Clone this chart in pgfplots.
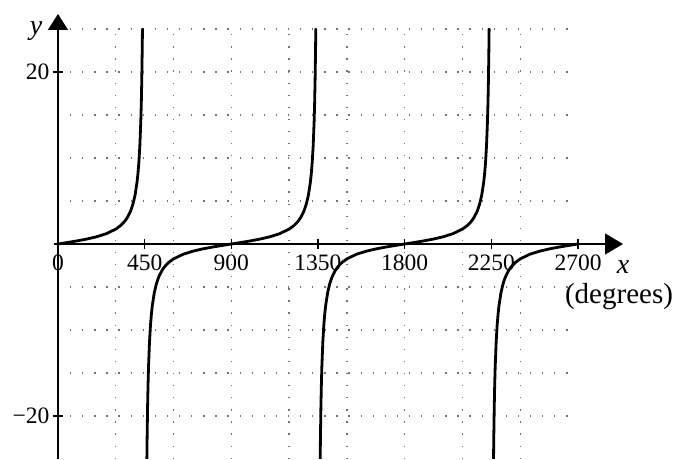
\documentclass[border=0pt]{standalone}
\usepackage{pgfplots}
\pgfplotsset{compat=1.18}
\usepackage{pgfplotstable}
\usepackage{fontspec}
\setmainfont{Liberation Serif}
\usetikzlibrary{arrows.meta}

% half of one branch of the curve: offset d from a zero, value v
\pgfplotstableread{
d v
0 0
50 0.1763
100 0.3640
150 0.5774
200 0.8391
250 1.1918
300 1.7321
325 2.1445
340 2.4751
350 2.7475
360 3.0777
375 3.7321
380 4.0108
390 4.7046
400 5.6713
410 7.1154
415 8.1443
420 9.5144
425 11.4301
430 14.3007
432.5 16.3499
435 19.0811
437.5 22.9038
438.55 25.0
}\halfbranch

\begin{document}
\begin{tikzpicture}
\begin{axis}[
  scale only axis, width=520pt, height=430pt,
  xmin=0, xmax=2700, ymin=-25, ymax=25,
  axis lines=middle,
  axis line style={line width=1.5pt, black},
  x axis line style={-{Triangle[length=18pt,width=21pt]}, shorten >=-45pt, shorten <=-4pt},
  y axis line style={-{Triangle[length=16pt,width=20pt]}, shorten >=-15pt},
  xtick={0,450,900,1350,1800,2250,2700},
  xticklabels={0,450,900,1350,1800,2250,2700},
  ytick={-20,20},
  yticklabels={−20,20},
  hide obscured x ticks=false,
  hide obscured y ticks=false,
  tick style={black, line width=1.3pt},
  major tick length=10pt, tick align=center,
  minor xtick={300,600,900,1200,1500,1800,2100,2400},
  minor ytick={-20,-15,-10,-5,0,5,10,15,20,25},
  minor tick length=0pt,
  grid=minor,
  minor grid style={black!55, line width=1.3pt, dash pattern=on 1.3pt off 10.8pt},
  ticklabel style={font=\fontsize{23.5}{26}\selectfont},
  xticklabel style={yshift=-2pt},
  clip mode=individual,
]
\pgfplotsset{curve/.style={black, line width=2.8pt, line cap=round, line join=round}}
\addplot[curve] table[x=d, y=v]{\halfbranch};
\addplot[curve] table[x expr=900-\thisrow{d}, y expr=-\thisrow{v}]{\halfbranch};
\addplot[curve] table[x expr=900+\thisrow{d}, y=v]{\halfbranch};
\addplot[curve] table[x expr=1800-\thisrow{d}, y expr=-\thisrow{v}]{\halfbranch};
\addplot[curve] table[x expr=1800+\thisrow{d}, y=v]{\halfbranch};
\addplot[curve] table[x expr=2700-\thisrow{d}, y expr=-\thisrow{v}]{\halfbranch};
\coordinate (BL) at (axis cs:0,-25);
\node[font=\fontsize{28}{30}\selectfont\itshape] at (axis cs:0,25) [xshift=-22pt, yshift=-2pt] {y};
\node[font=\fontsize{28}{30}\selectfont\itshape] at (axis cs:2700,0) [xshift=45pt, yshift=-23pt] {x};
\node[font=\fontsize{29}{31}\selectfont] at (axis cs:2700,0) [xshift=41pt, yshift=-53pt] {(degrees)};
\end{axis}
\path (BL) ++(-58pt,0) rectangle ++(678pt,459pt);
\end{tikzpicture}
\end{document}
